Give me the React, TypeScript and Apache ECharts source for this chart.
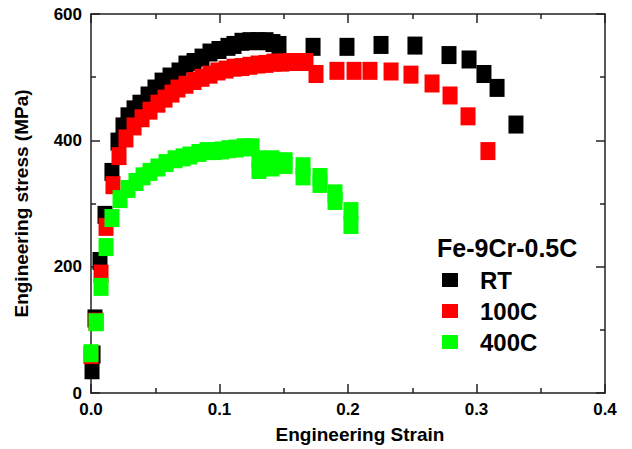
import React, { useEffect, useRef } from "react";
import * as echarts from "echarts";

// [engineering strain, engineering stress (MPa)]
const rtData: number[][] = [
  [0.0008, 36], [0.0016, 61], [0.0031, 118], [0.007, 209], [0.0109, 282],
  [0.0163, 350], [0.021, 398], [0.0249, 422], [0.0288, 438], [0.0335, 449],
  [0.0381, 458], [0.0444, 471], [0.0498, 482], [0.0553, 493], [0.0615, 501],
  [0.0685, 509], [0.0739, 520], [0.0802, 524], [0.0864, 531], [0.0926, 539],
  [0.0996, 543], [0.1066, 548], [0.1113, 551], [0.1175, 556], [0.1237, 557],
  [0.13, 557], [0.1362, 557], [0.1416, 554], [0.1463, 551], [0.1728, 548],
  [0.1992, 548], [0.2257, 551], [0.2521, 550], [0.2786, 535], [0.2942, 528],
  [0.3058, 505], [0.316, 483], [0.3307, 425],
];

const c100Data: number[][] = [
  [0.0, 60], [0.0039, 113], [0.0078, 189], [0.0117, 263], [0.0171, 329],
  [0.0218, 375], [0.0272, 403], [0.0335, 422], [0.0397, 435], [0.0459, 447],
  [0.0521, 458], [0.0576, 466], [0.063, 474], [0.0677, 482], [0.0739, 488],
  [0.0802, 494], [0.0864, 499], [0.0926, 504], [0.0988, 509], [0.1051, 512],
  [0.1113, 515], [0.1175, 516], [0.1237, 518], [0.13, 520], [0.1362, 521],
  [0.1424, 523], [0.1486, 523], [0.1549, 524], [0.1611, 524], [0.1673, 524],
  [0.1751, 505], [0.1914, 510], [0.2047, 510], [0.2171, 510], [0.2335, 509],
  [0.249, 504], [0.2654, 490], [0.2794, 471], [0.2934, 438], [0.3089, 383],
];

const c400Data: number[][] = [
  [0.0, 63], [0.0039, 112], [0.0078, 168], [0.0117, 231], [0.0163, 277],
  [0.0226, 307], [0.0288, 323], [0.035, 334], [0.0405, 343], [0.0459, 350],
  [0.0521, 357], [0.0584, 364], [0.0654, 370], [0.0716, 373], [0.077, 376],
  [0.084, 380], [0.0903, 383], [0.0957, 383], [0.1019, 384], [0.1074, 386],
  [0.1128, 387], [0.1191, 389], [0.1253, 389], [0.1307, 370], [0.1307, 353],
  [0.1409, 370], [0.1409, 357], [0.151, 367], [0.151, 361], [0.165, 359],
  [0.165, 343], [0.1782, 342], [0.1782, 331], [0.1899, 316], [0.1899, 304],
  [0.2023, 288], [0.2023, 266],
];

const seriesNames = ["RT", "100C", "400C"];
const seriesColors = ["#000000", "#ff0000", "#00ff00"];
const legendTitle = "Fe-9Cr-0.5C";
const xTitle = "Engineering Strain";
const yTitle = "Engineering stress (MPa)";

const FONT = "'Liberation Sans', Arial, Helvetica, sans-serif";

export default function App() {
  const ref = useRef<HTMLDivElement>(null);
  useEffect(() => {
    document.body.style.margin = "0";
    const chart = echarts.init(ref.current!, null, { renderer: "svg" });
    const lineStyle = { color: "#222", width: 1.5 };
    const tickCommon = {
      axisLine: { show: true, onZero: false, lineStyle },
      axisTick: { show: true, inside: true, length: 9, lineStyle },
      minorTick: { show: true, splitNumber: 2, length: 5, lineStyle },
      splitLine: { show: false },
      minorSplitLine: { show: false },
    };
    const labelStyle = {
      fontSize: 17,
      fontWeight: "bold",
      color: "#000",
      fontFamily: FONT,
    };
    const dataSets = [rtData, c100Data, c400Data];
    chart.setOption({
      animation: false,
      backgroundColor: "#fff",
      textStyle: { fontFamily: FONT },
      grid: { left: 91, right: 27, top: 14, bottom: 54 },
      title: {
        text: legendTitle,
        left: 437,
        top: 235,
        padding: 0,
        textStyle: {
          fontSize: 25,
          fontWeight: "bold",
          color: "#000",
          fontFamily: FONT,
          lineHeight: 26,
        },
      },
      legend: {
        data: seriesNames,
        orient: "vertical",
        left: 442,
        top: 268,
        padding: 0,
        itemWidth: 16,
        itemHeight: 14,
        itemGap: 7,
        icon: "rect",
        textStyle: {
          fontSize: 24,
          fontWeight: "bold",
          color: "#000",
          fontFamily: FONT,
          lineHeight: 24,
          padding: [0, 0, 0, 17],
        },
      },
      xAxis: [
        {
          type: "value",
          position: "bottom",
          min: 0,
          max: 0.4,
          interval: 0.1,
          ...tickCommon,
          axisLabel: {
            ...labelStyle,
            margin: 8,
            formatter: (v: number) => v.toFixed(1),
          },
          name: xTitle,
          nameLocation: "middle",
          nameGap: 32,
          nameTextStyle: {
            fontSize: 19,
            fontWeight: "bold",
            color: "#000",
            fontFamily: FONT,
            padding: [0, 0, 0, 24],
          },
        },
        {
          type: "value",
          position: "top",
          min: 0,
          max: 0.4,
          interval: 0.1,
          ...tickCommon,
          axisLabel: { show: false },
        },
      ],
      yAxis: [
        {
          type: "value",
          position: "left",
          min: 0,
          max: 600,
          interval: 200,
          ...tickCommon,
          axisLabel: { ...labelStyle, margin: 9 },
          name: yTitle,
          nameLocation: "middle",
          nameGap: 60,
          nameTextStyle: {
            fontSize: 19,
            fontWeight: "bold",
            color: "#000",
            fontFamily: FONT,
          },
        },
        {
          type: "value",
          position: "right",
          min: 0,
          max: 600,
          interval: 200,
          ...tickCommon,
          axisLabel: { show: false },
        },
      ],
      series: seriesNames.map((name, i) => ({
        name,
        type: "scatter",
        xAxisIndex: 0,
        yAxisIndex: 0,
        symbol: "rect",
        symbolSize: [15, 18],
        itemStyle: { color: seriesColors[i], opacity: 1 },
        data: dataSets[i],
      })),
    });
    return () => chart.dispose();
  }, []);
  return <div ref={ref} style={{ width: 632, height: 449 }} />;
}
